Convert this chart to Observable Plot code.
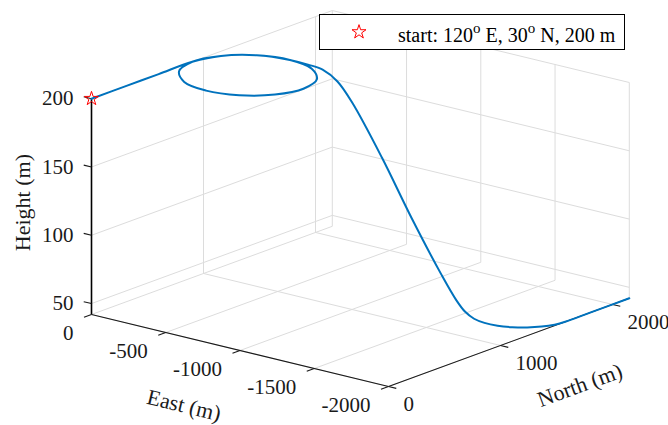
<!DOCTYPE html>
<html><head><meta charset="utf-8">
<script src="https://cdn.jsdelivr.net/npm/d3@7"></script>
<script src="https://cdn.jsdelivr.net/npm/@observablehq/plot@0.6"></script>
<style>
html,body{margin:0;padding:0;background:#fff;}
#wrap{position:relative;width:668px;height:425px;overflow:hidden;background:#fff;}
#legend{position:absolute;left:319px;top:14px;}
</style></head><body><div id="wrap"></div>
<script>
// ---- data ----
const eastTicks = [0, -500, -1000, -1500, -2000];
const northTicks = [0, 1000, 2000];
const heightTicks = [50, 100, 150, 200];
const trackEast   = [0, 0, 0, 0, -52, -190, -375, -560, -698, -748, -698, -560, -375, -190, -52, 0, -52, -190, -375, -500, -600, -700, -800, -1000, -1200, -1400, -1500, -1560, -1620, -1690, -1770, -1845, -1909, -1958, -1989, -2000, -2000, -2000];
const trackNorth  = [0, 300, 600, 900, 1087, 1224, 1274, 1224, 1087, 900, 713, 576, 526, 576, 713, 900, 1087, 1224, 1274, 1270, 1268, 1268, 1268, 1268, 1268, 1268, 1268, 1268, 1268, 1268, 1279, 1310, 1359, 1423, 1498, 1578, 1800, 2150];
const trackHeight = [200, 200, 200, 200, 200, 200, 200, 200, 200, 200, 200, 200, 200, 200, 200, 200, 200, 200, 200, 200, 199, 193, 180, 145, 106, 70, 54, 47, 43.5, 42.3, 42, 42, 42, 42, 42, 42, 42, 42];
const startPoint = {east: 0, north: 0, height: 200};
const legendLabel = ["start: 120", "o", " E, 30", "o", " N, 200 m"];
const axisLabels = {east: "East (m)", north: "North (m)", height: "Height (m)"};

// ---- 3D view (orthographic projection of the data box) ----
const [eMin, eMax] = d3.extent(trackEast);
const [nMin, nMax] = d3.extent(trackNorth);
const [zMin, zMax] = d3.extent(trackHeight);
const origin = [388, 386];          // screen position of the (eMin, nMin, zMin) corner
const vE = [-297, -72];             // screen span of the East axis
const vN = [240.8, -88.2];          // screen span of the North axis
const vZ = [0, -215.8];             // screen span of the Height axis
function project(e, n, z) {
  const u = (e - eMin) / (eMax - eMin), v = (n - nMin) / (nMax - nMin), w = (z - zMin) / (zMax - zMin);
  return [origin[0] + u * vE[0] + v * vN[0] + w * vZ[0], origin[1] + u * vE[1] + v * vN[1] + w * vZ[1]];
}
const unit = (v, s) => { const l = Math.hypot(v[0], v[1]); return [s * v[0] / l, s * v[1] / l]; };
const seg = (a, b) => ({x1: a[0], y1: a[1], x2: b[0], y2: b[1]});

const track = trackEast.map((e, i) => project(e, trackNorth[i], trackHeight[i]));

// grid on floor and the two back walls
const grid = [];
for (const e of eastTicks) {
  grid.push(seg(project(e, nMin, zMin), project(e, nMax, zMin)));
  grid.push(seg(project(e, nMax, zMin), project(e, nMax, zMax)));
}
for (const n of northTicks) {
  grid.push(seg(project(eMin, n, zMin), project(eMax, n, zMin)));
  grid.push(seg(project(eMax, n, zMin), project(eMax, n, zMax)));
}
for (const z of heightTicks) {
  grid.push(seg(project(eMin, nMax, z), project(eMax, nMax, z)));
  grid.push(seg(project(eMax, nMin, z), project(eMax, nMax, z)));
}

const axesThin = [
  seg(project(eMin, nMin, zMin), project(eMax, nMin, zMin)),
  seg(project(eMin, nMin, zMin), project(eMin, nMax, zMin))
];
const axisZ = [seg(project(eMax, nMin, zMin), project(eMax, nMin, zMax))];

const tl = 8;
const tE = unit([-vN[0], -vN[1]], tl), tN = unit([-vE[0], -vE[1]], tl), tZ = unit(vE, tl);
const ticks = [];
const eLab = eastTicks.map(e => { const p = project(e, nMin, zMin); ticks.push(seg(p, [p[0] + tE[0], p[1] + tE[1]])); return {x: p[0], y: p[1], t: String(e)}; });
const nLab = northTicks.map(n => { const p = project(eMin, n, zMin); ticks.push(seg(p, [p[0] + tN[0], p[1] + tN[1]])); return {x: p[0], y: p[1], t: String(n)}; });
const zLab = heightTicks.map(z => { const p = project(eMax, nMin, z); ticks.push(seg(p, [p[0] + tZ[0], p[1] + tZ[1]])); return {x: p[0], y: p[1], t: String(z)}; });

const pE = project((eMin + eMax) / 2, nMin, zMin);
const pN = project(eMin, (nMin + nMax) / 2, zMin);
const pZ = project(eMax, nMin, (zMin + zMax) / 2);
const angE = Math.atan2(vE[1], vE[0]) * 180 / Math.PI + 180;
const angN = Math.atan2(vN[1], vN[0]) * 180 / Math.PI;

const font = "Liberation Serif, Times New Roman, serif";
const ink = "#1a1a1a";
const sp = project(startPoint.east, startPoint.north, startPoint.height);

const chart = Plot.plot({
  width: 668, height: 425, margin: 0,
  x: {type: "identity", axis: null}, y: {type: "identity", axis: null},
  style: {background: "#fff"},
  marks: [
    Plot.link(grid, {x1: "x1", y1: "y1", x2: "x2", y2: "y2", stroke: "#dcdcdc", strokeWidth: 1}),
    Plot.link(axesThin, {x1: "x1", y1: "y1", x2: "x2", y2: "y2", stroke: ink, strokeWidth: 1.1}),
    Plot.link(axisZ, {x1: "x1", y1: "y1", x2: "x2", y2: "y2", stroke: "#000", strokeWidth: 1.6}),
    Plot.link(ticks, {x1: "x1", y1: "y1", x2: "x2", y2: "y2", stroke: ink, strokeWidth: 1.1}),
    Plot.line(track, {x: d => d[0], y: d => d[1], stroke: "#0072BD", strokeWidth: 2, curve: "catmull-rom"}),
    Plot.dot([sp], {x: d => d[0], y: d => d[1], symbol: "star", r: 4.4, stroke: "red", fill: "none", strokeWidth: 1}),
    Plot.text(zLab, {x: "x", y: "y", text: "t", textAnchor: "end", dx: -18, fontFamily: font, fontSize: 21, fill: ink}),
    Plot.text(eLab, {x: "x", y: "y", text: "t", textAnchor: "end", dx: -18, dy: 19, fontFamily: font, fontSize: 21, fill: ink}),
    Plot.text(nLab, {x: "x", y: "y", text: "t", textAnchor: "start", dx: 15, dy: 18, fontFamily: font, fontSize: 21, fill: ink}),
    Plot.text([axisLabels.east], {x: () => pE[0], y: () => pE[1], text: d => d, dx: -56, dy: 55, rotate: angE, fontFamily: font, fontSize: 22, fill: ink}),
    Plot.text([axisLabels.north], {x: () => pN[0], y: () => pN[1], text: d => d, dx: 71, dy: 43, rotate: angN, fontFamily: font, fontSize: 22, fill: ink}),
    Plot.text([axisLabels.height], {x: () => pZ[0], y: () => pZ[1], text: d => d, dx: -69, dy: -4, rotate: -90, fontFamily: font, fontSize: 22, fill: ink})
  ]
});
const wrap = document.getElementById("wrap");
wrap.appendChild(chart);

// legend
const lg = d3.create("svg").attr("id", "legend").attr("width", 306).attr("height", 36);
lg.append("rect").attr("x", 0.5).attr("y", 0.5).attr("width", 305).attr("height", 35).attr("fill", "#fff").attr("stroke", "#000").attr("stroke-width", 1);
lg.append("path").attr("transform", "translate(40,18)").attr("d", d3.symbol(d3.symbolStar, 61)()).attr("fill", "none").attr("stroke", "red").attr("stroke-width", 1);
const tx = lg.append("text").attr("x", 79).attr("y", 28).attr("font-family", font).attr("font-size", 20).attr("fill", "#000");
legendLabel.forEach((s, i) => {
  const sup = i % 2 === 1;
  tx.append("tspan").attr("font-size", sup ? 15 : 20).attr("dy", sup ? -9 : (i > 0 ? 9 : 0)).text(s);
});
wrap.appendChild(lg.node());
</script>
</body></html>
